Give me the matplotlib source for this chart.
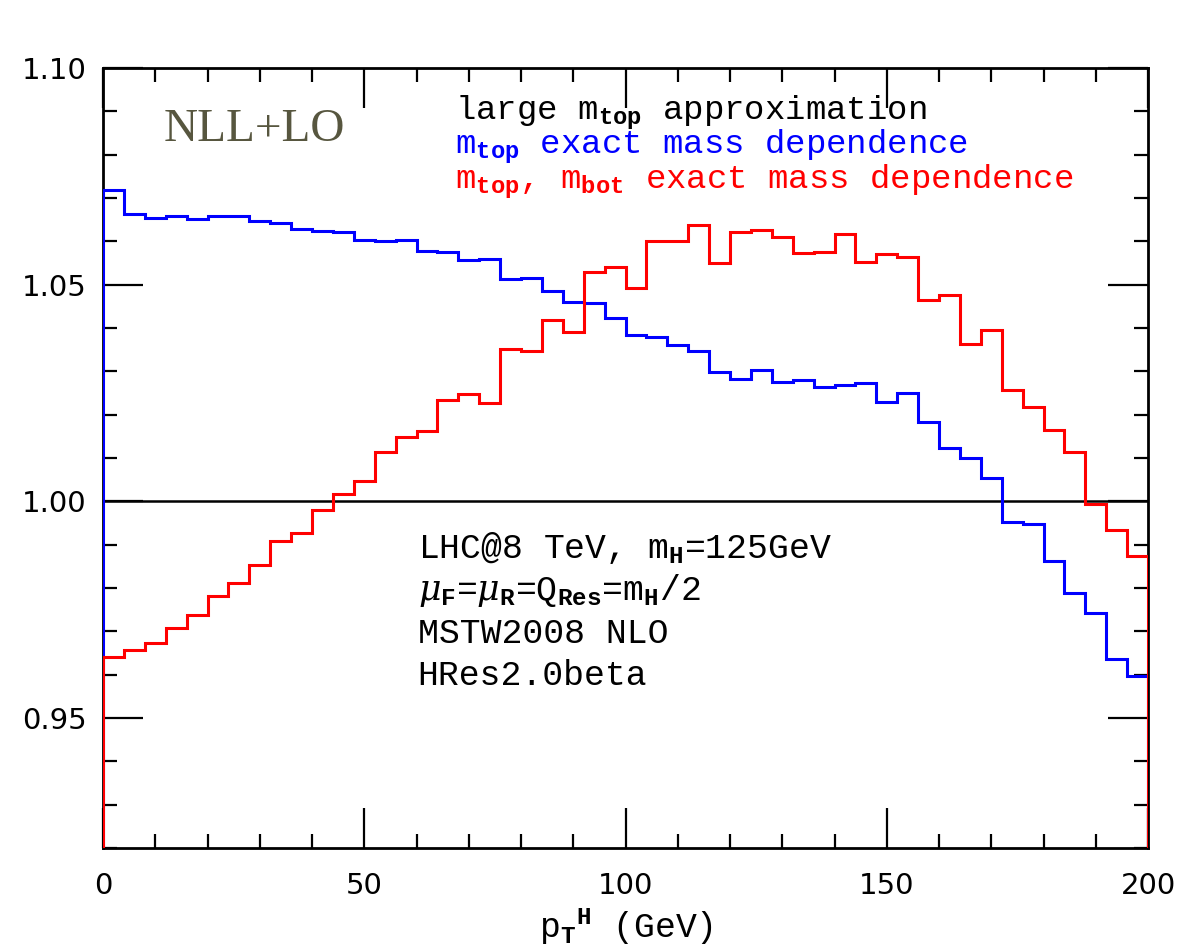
"""Higgs pT spectrum: ratio of exact mass dependence to large m_top limit"""

import numpy as np
import matplotlib
matplotlib.use("Agg")
import matplotlib.pyplot as plt
from matplotlib.ticker import MultipleLocator

# 4 GeV bins from 0 to 200 GeV
bin_edges = np.arange(0, 204, 4)

# ratio with exact top mass dependence
ratio_top = [1.0718, 1.0662, 1.0654, 1.0658, 1.0652, 1.0659, 1.0659, 1.0647, 1.0642, 1.0629,
             1.0624, 1.0622, 1.0603, 1.0600, 1.0602, 1.0578, 1.0576, 1.0556, 1.0560, 1.0512,
             1.0516, 1.0485, 1.0460, 1.0458, 1.0423, 1.0383, 1.0379, 1.0360, 1.0348, 1.0299,
             1.0283, 1.0303, 1.0275, 1.0279, 1.0263, 1.0269, 1.0272, 1.0229, 1.0249, 1.0184,
             1.0122, 1.0100, 1.0055, 0.9952, 0.9948, 0.9863, 0.9788, 0.9742, 0.9637, 0.9597]

# ratio with exact top and bottom mass dependence
ratio_top_bot = [0.9640, 0.9657, 0.9673, 0.9707, 0.9738, 0.9781, 0.9811, 0.9852, 0.9909, 0.9927,
                 0.9981, 1.0017, 1.0048, 1.0115, 1.0149, 1.0163, 1.0234, 1.0248, 1.0228, 1.0352,
                 1.0346, 1.0418, 1.0390, 1.0530, 1.0540, 1.0492, 1.0601, 1.0601, 1.0638, 1.0550,
                 1.0622, 1.0627, 1.0610, 1.0573, 1.0576, 1.0616, 1.0553, 1.0570, 1.0564, 1.0464,
                 1.0477, 1.0363, 1.0395, 1.0256, 1.0217, 1.0164, 1.0113, 0.9994, 0.9935, 0.9875]

# large m_top approximation is the reference
reference = 1.0

x_ticks = [0, 50, 100, 150, 200]
y_ticks = [0.95, 1.00, 1.05, 1.10]
y_tick_labels = ["0.95", "1.00", "1.05", "1.10"]

mono = "Liberation Mono"
plt.rcParams["mathtext.fontset"] = "custom"
plt.rcParams["mathtext.rm"] = mono
plt.rcParams["mathtext.bf"] = mono + ":bold"
plt.rcParams["mathtext.it"] = "DejaVu Serif:italic"

fig = plt.figure(figsize=(11.84, 9.51), dpi=100)
ax = fig.add_axes([0.087, 0.1083, 0.8826, 0.8202])

ymin = 0.92
ax.axhline(reference, color="black", lw=1.8, zorder=2)
ax.stairs(ratio_top, bin_edges, baseline=ymin, color="#0000ff", lw=2.2, zorder=3)
ax.stairs(ratio_top_bot, bin_edges, baseline=ymin, color="#ff0000", lw=2.2, zorder=4)

ax.set_xlim(0, 200)
ax.set_ylim(ymin, 1.10)

ax.set_xticks(x_ticks)
ax.set_xticklabels([str(t) for t in x_ticks], fontsize=21, family="DejaVu Sans")
ax.set_yticks(y_ticks)
ax.set_yticklabels(y_tick_labels, fontsize=21, family="DejaVu Sans")
ax.xaxis.set_minor_locator(MultipleLocator(10))
ax.yaxis.set_minor_locator(MultipleLocator(0.01))
ax.tick_params(which="both", direction="in", top=True, right=True, width=1.6)
ax.tick_params(which="major", length=29)
ax.tick_params(axis="x", which="major", pad=17)
ax.tick_params(axis="y", which="major", pad=12)
ax.tick_params(which="minor", length=10)
for sp in ax.spines.values():
    sp.set_linewidth(2.0)

ax.set_xlabel(r"p$_\mathbf{T}$$^\mathbf{H}$ (GeV)", fontsize=25, family=mono, labelpad=5)

# labels
ax.text(0.058, 0.921, "NLL+LO", transform=ax.transAxes, fontsize=34,
        family="Liberation Serif", color="#57563f", va="center")
legend_lines = [(r"large m$_\mathbf{top}$ approximation", "black"),
                (r"m$_\mathbf{top}$ exact mass dependence", "#0000ff"),
                (r"m$_\mathbf{top}$, m$_\mathbf{bot}$ exact mass dependence", "#ff0000")]
for (label, col), yb in zip(legend_lines, [0.934, 0.890, 0.846]):
    ax.text(0.337, yb, label, transform=ax.transAxes, fontsize=24.5,
            family=mono, color=col, va="baseline")

info = [r"LHC@8 TeV, m$_\mathbf{H}$=125GeV",
        r"$\mu_\mathbf{F}$=$\mu_\mathbf{R}$=Q$_\mathbf{Res}$=m$_\mathbf{H}$/2",
        "MSTW2008 NLO",
        "HRes2.0beta"]
for i, line in enumerate(info):
    ax.text(0.301, 0.385 - i * 0.0547, line, transform=ax.transAxes, fontsize=25,
            family=mono, color="black", va="center")

fig.savefig("out.png", dpi=100)
